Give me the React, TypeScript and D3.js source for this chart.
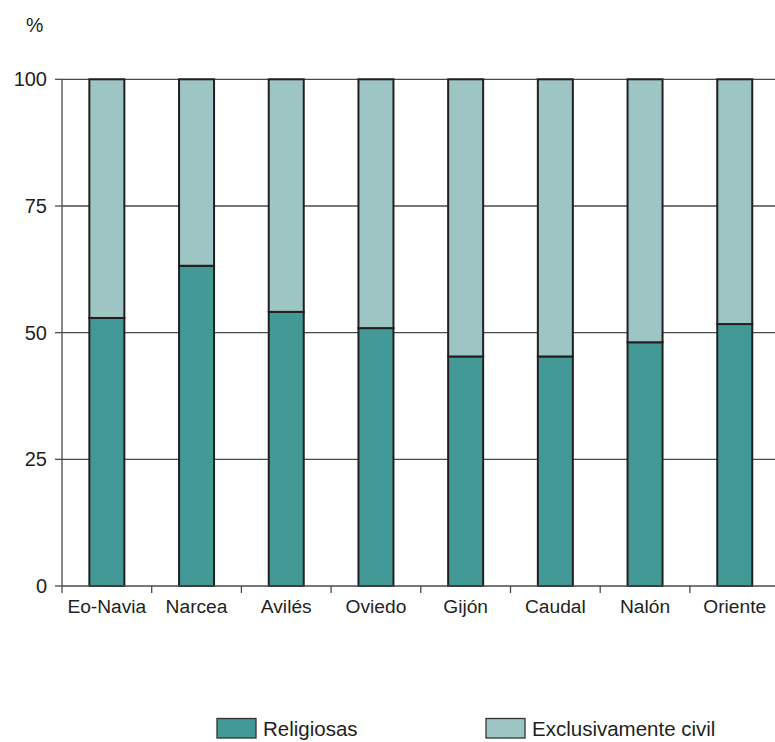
import React from "react";
import * as d3 from "d3";

const categories = ["Eo-Navia", "Narcea", "Avilés", "Oviedo", "Gijón", "Caudal", "Nalón", "Oriente"];
const religiosas = [52.9, 63.2, 54.1, 50.9, 45.3, 45.3, 48.1, 51.7];
const yTicks = [0, 25, 50, 75, 100];
const seriesNames = ["Religiosas", "Exclusivamente civil"];
const colors = ["#429995", "#9dc5c3"];

export default function App() {
  const W = 775, H = 742;
  const left = 62, right = 779.6, top = 79.3, bottom = 586;
  const x = d3.scaleBand<string>().domain(categories).range([left, right]).paddingInner(0).paddingOuter(0);
  const y = d3.scaleLinear().domain([0, 100]).range([bottom, top]);
  const barW = 35;
  const font = "'Liberation Sans', Arial, Helvetica, sans-serif";
  const bounds = d3.range(categories.length + 1).map((i) => left + i * x.step());
  const txt = "#231f20";

  return (
    <svg width={W} height={H} style={{ position: "absolute", left: 0, top: 0 }} fontFamily={font}>
      <rect width={W} height={H} fill="#fff" />
      <text x={26} y={32} fontSize={19.5} fill={txt}>%</text>
      {yTicks.map((t) => (
        <g key={t}>
          {t > 0 && <line x1={left} x2={W} y1={y(t)} y2={y(t)} stroke="#4a4a4a" strokeWidth={1.3} />}
          <line x1={55} x2={left} y1={y(t)} y2={y(t)} stroke="#4a4a4a" strokeWidth={1.3} />
          <text x={47} y={y(t) + 7} textAnchor="end" fontSize={20} fill={txt}>{t}</text>
        </g>
      ))}
      {categories.map((c, i) => {
        const cx = (x(c) as number) + x.bandwidth() / 2;
        const x0 = cx - barW / 2;
        return (
          <g key={c}>
            <rect x={x0} y={y(religiosas[i])} width={barW} height={y(0) - y(religiosas[i])} fill={colors[0]} stroke="#231f20" strokeWidth={2} />
            <rect x={x0} y={y(100)} width={barW} height={y(religiosas[i]) - y(100)} fill={colors[1]} stroke="#231f20" strokeWidth={2} />
          </g>
        );
      })}
      <line x1={left} x2={left} y1={top} y2={bottom} stroke="#4a4a4a" strokeWidth={1.3} />
      <line x1={left} x2={W} y1={bottom} y2={bottom} stroke="#4a4a4a" strokeWidth={1.3} />
      {bounds.filter((b) => b < W).map((b, i) => (
        <line key={i} x1={b} x2={b} y1={bottom} y2={bottom + 7} stroke="#4a4a4a" strokeWidth={1.3} />
      ))}
      {categories.map((c) => (
        <text key={c} x={(x(c) as number) + x.bandwidth() / 2} y={612.5} textAnchor="middle" fontSize={19.2} fill={txt}>{c}</text>
      ))}
      {seriesNames.map((s, i) => {
        const lx = i === 0 ? 217 : 486;
        return (
          <g key={s}>
            <rect x={lx} y={718.5} width={39} height={19.5} fill={colors[i]} stroke="#333" strokeWidth={1.3} />
            <text x={lx + 46} y={736} fontSize={20.5} fill={txt}>{s}</text>
          </g>
        );
      })}
    </svg>
  );
}
